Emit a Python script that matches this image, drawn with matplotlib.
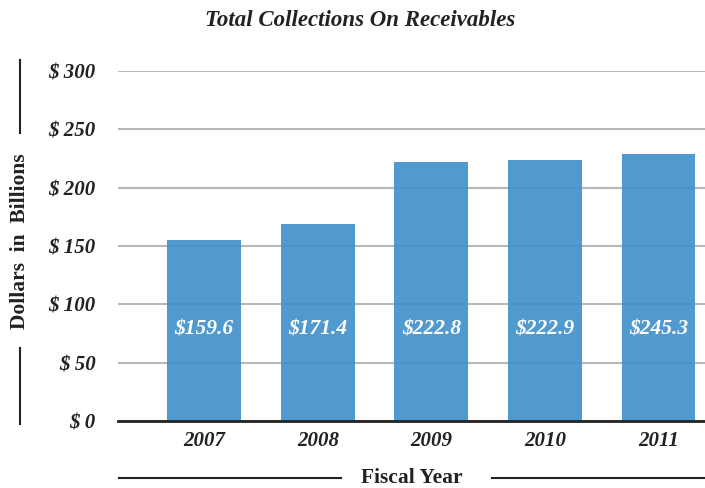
import matplotlib.pyplot as plt
from matplotlib.lines import Line2D

years = ['2007', '2008', '2009', '2010', '2011']
bar_heights = [155, 169, 222, 224, 229]
value_labels = [159.6, 171.4, 222.8, 222.9, 245.3]
y_ticks = [0, 50, 100, 150, 200, 250, 300]

plt.rcParams['font.family'] = ['Liberation Serif', 'DejaVu Serif']

W, H = 705, 488
fig = plt.figure(figsize=(W / 100, H / 100), dpi=100)
ax = fig.add_axes([118 / W, 1 - 421 / H, (W - 118) / W, (421 - 71) / H])

x = range(len(years))
ax.bar(x, bar_heights, width=0.65, color='#3d8fcb', alpha=0.9, zorder=2)

# value labels inside bars, all at the same height
for i, v in enumerate(value_labels):
    ax.text(i, 78, f'${v:.1f}', ha='center', va='center', color='white',
            fontsize=15.5, fontweight='bold', fontstyle='italic', zorder=3)

ax.set_ylim(0, 300)
ax.set_xlim(-0.76, 4.41)
ax.set_yticks(y_ticks)
ax.set_yticklabels([f'$ {t}' for t in y_ticks])
ax.set_xticks(list(x))
ax.set_xticklabels(years)
ax.yaxis.grid(True, color='#b8b8b8', lw=1.5, zorder=1)
ax.set_axisbelow(True)

for s in ['left', 'right', 'top']:
    ax.spines[s].set_visible(False)
ax.spines['bottom'].set_color('#222222')
ax.spines['bottom'].set_linewidth(2)
ax.spines['bottom'].set_zorder(4)

ax.tick_params(axis='y', length=0, pad=16)
ax.tick_params(axis='x', length=0, pad=7)
for lbl in ax.get_yticklabels() + ax.get_xticklabels():
    lbl.set_fontweight('bold')
    lbl.set_fontstyle('italic')
    lbl.set_fontsize(15)
    lbl.set_color('#222222')

# title
fig.text(360 / W, 1 - 21 / H, 'Total Collections On Receivables', ha='center', va='center',
         fontsize=16.5, fontweight='bold', fontstyle='italic', color='#222222')

# y axis label with lines
fig.text(20 / W, 1 - 241 / H, 'Dollars  in  Billions', rotation=90, ha='center', va='center',
         fontsize=15.5, fontweight='bold', color='#222222')
fig.add_artist(Line2D([20 / W, 20 / W], [1 - 60 / H, 1 - 133 / H], color='#222222', lw=1.5))
fig.add_artist(Line2D([20 / W, 20 / W], [1 - 348 / H, 1 - 424 / H], color='#222222', lw=1.5))

# x axis label with lines
fig.text(412 / W, 1 - 478 / H, 'Fiscal Year', ha='center', va='center',
         fontsize=15.5, fontweight='bold', color='#222222')
fig.add_artist(Line2D([119 / W, 341 / W], [1 - 478 / H, 1 - 478 / H], color='#222222', lw=1.5))
fig.add_artist(Line2D([492 / W, 705 / W], [1 - 478 / H, 1 - 478 / H], color='#222222', lw=1.5))

fig.savefig('out.png', dpi=100)
